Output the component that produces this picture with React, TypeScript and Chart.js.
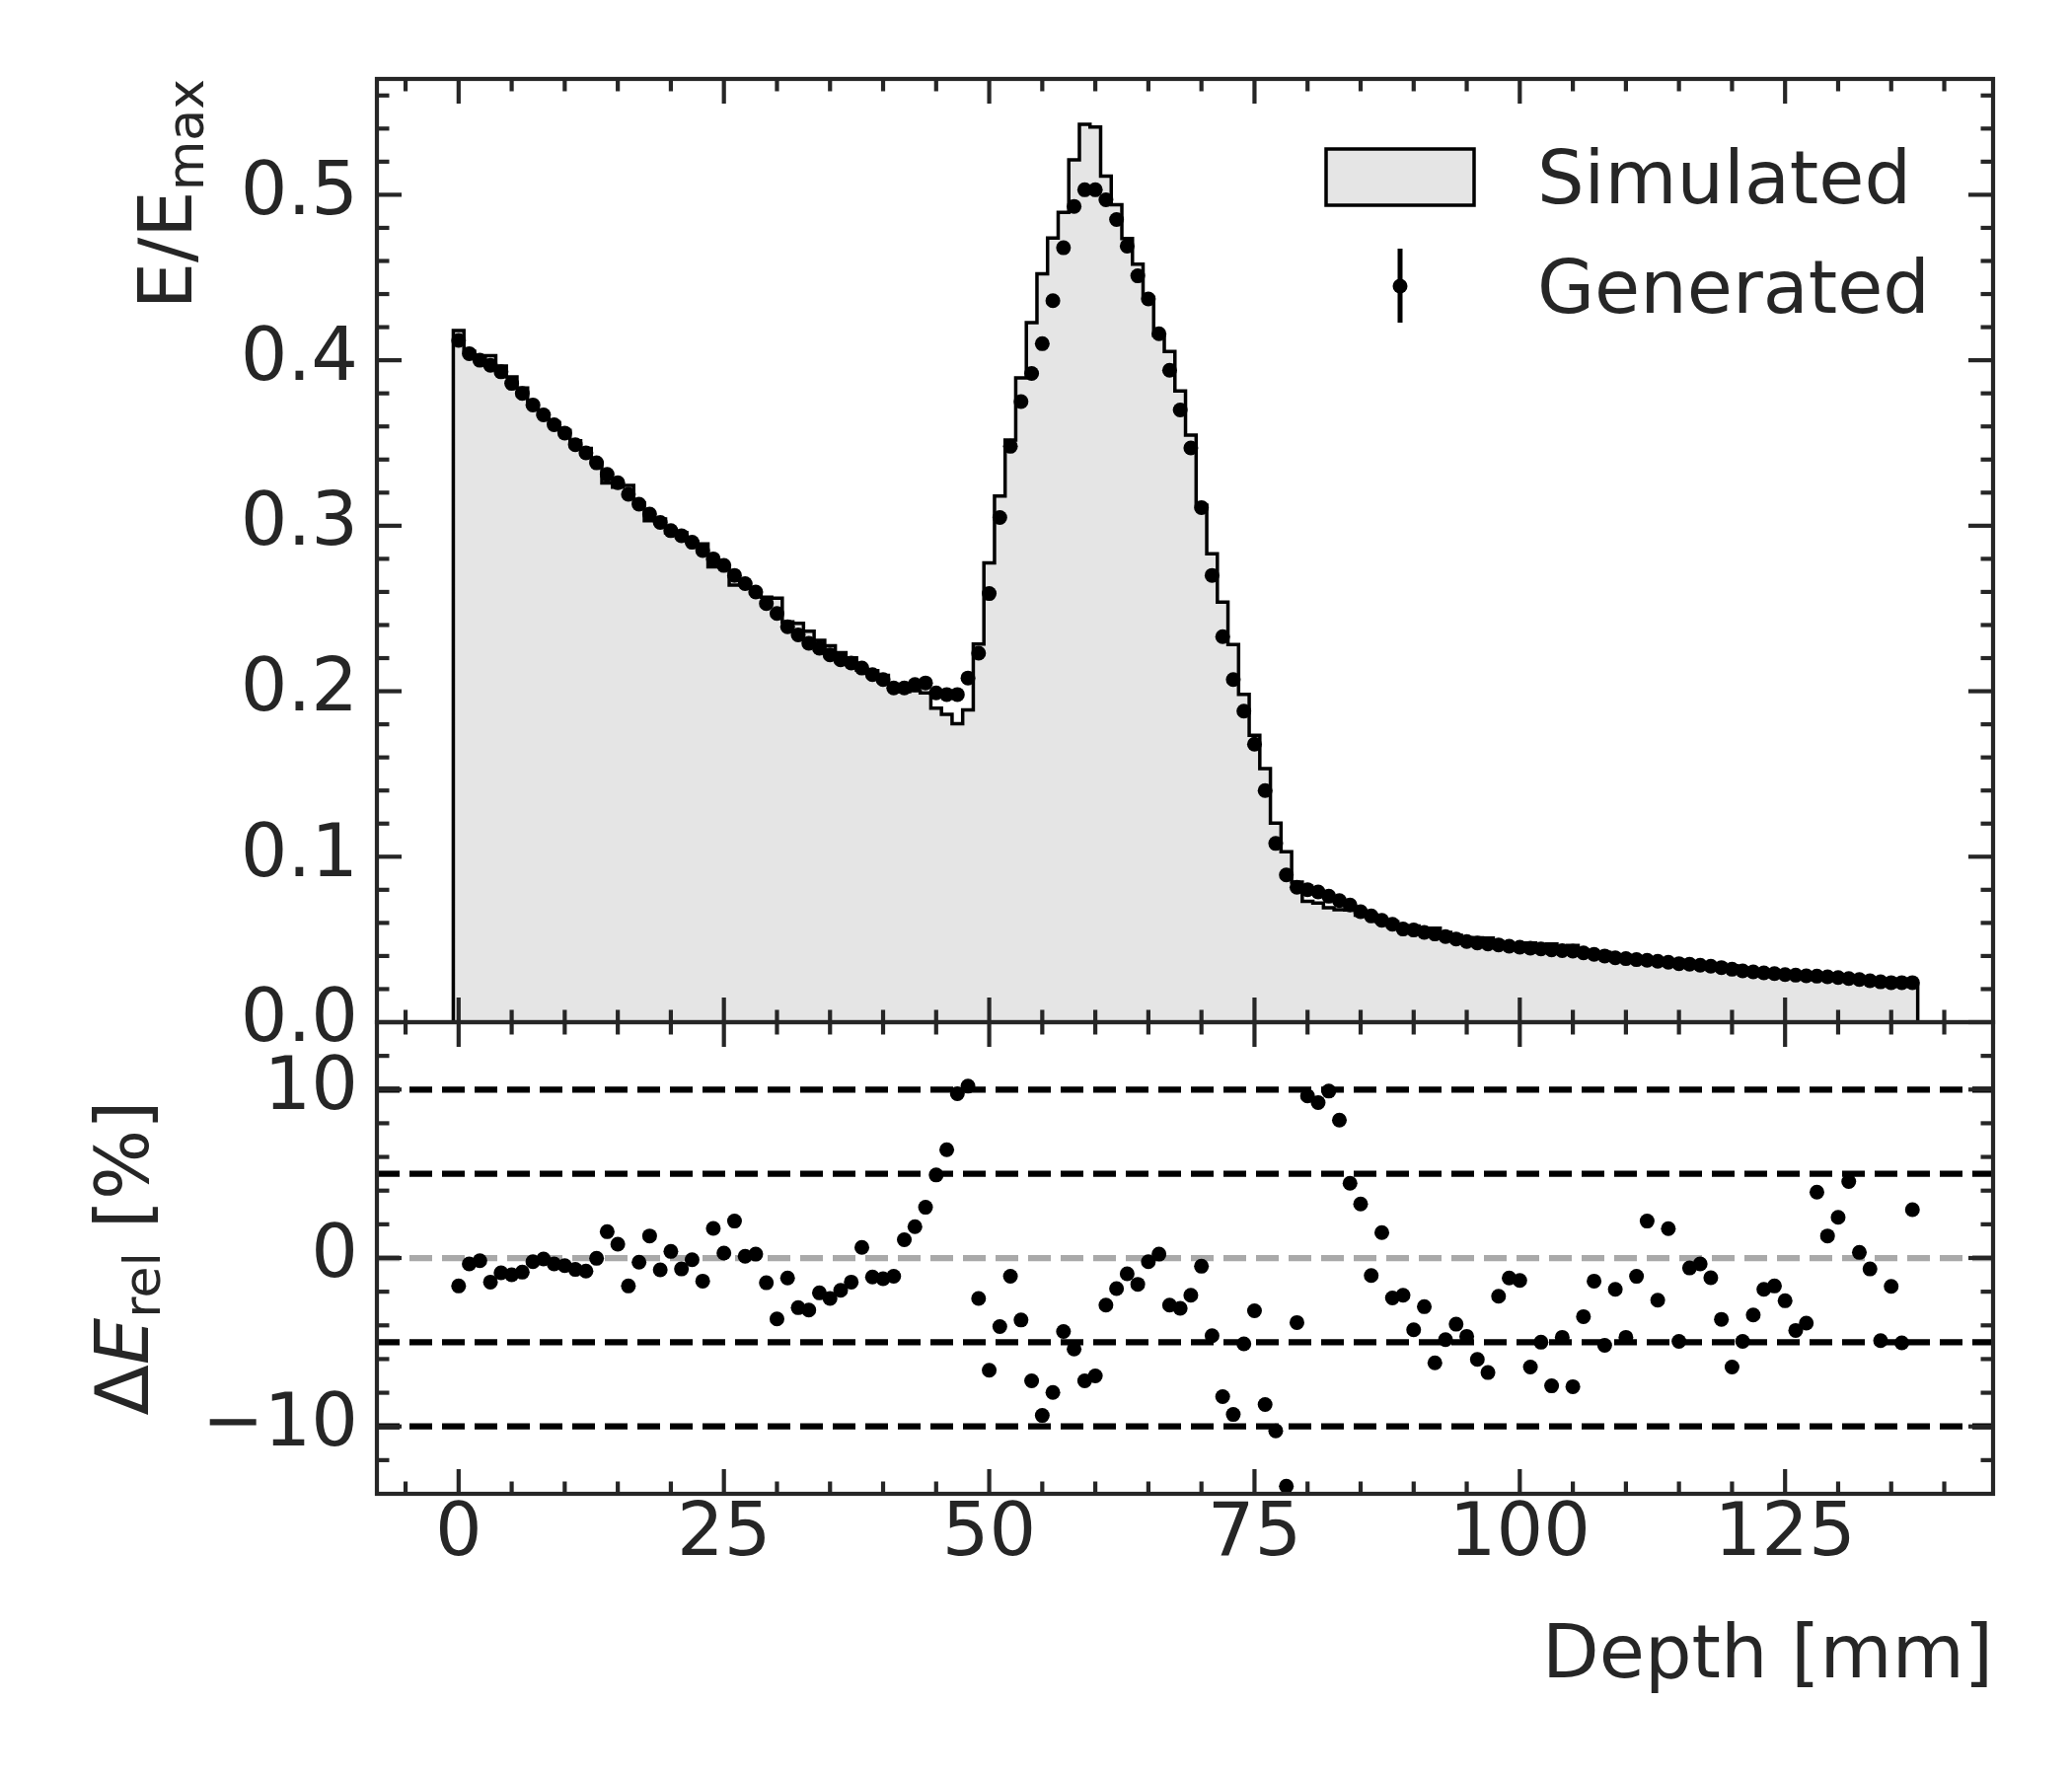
import { useEffect, useRef } from "react";
import { Chart, registerables } from "chart.js";

Chart.register(...registerables);

// Generated energy deposit per 1 mm depth bin (E/Emax)
const generated = [
  0.412, 0.404, 0.400, 0.397, 0.393, 0.386, 0.380, 0.373, 0.367, 0.361,
  0.356, 0.349, 0.344, 0.338, 0.331, 0.326, 0.319, 0.313, 0.307, 0.302,
  0.297, 0.294, 0.290, 0.285, 0.280, 0.276, 0.270, 0.265, 0.260, 0.253,
  0.247, 0.239, 0.234, 0.229, 0.226, 0.222, 0.219, 0.217, 0.214, 0.210,
  0.207, 0.202, 0.202, 0.204, 0.205, 0.199, 0.198, 0.198, 0.208, 0.223,
  0.259, 0.305, 0.348, 0.375, 0.392, 0.410, 0.436, 0.468, 0.493, 0.503,
  0.503, 0.497, 0.485, 0.469, 0.451, 0.437, 0.416, 0.394, 0.370, 0.347,
  0.311, 0.270, 0.233, 0.207, 0.188, 0.168, 0.140, 0.108, 0.089, 0.0815,
  0.0801, 0.0787, 0.0761, 0.0735, 0.0708, 0.0668, 0.0642, 0.0616, 0.0592, 0.0563,
  0.0557, 0.0543, 0.0533, 0.0517, 0.0503, 0.0487, 0.0479, 0.0473, 0.0467, 0.0459,
  0.0453, 0.0447, 0.0443, 0.0437, 0.0433, 0.0429, 0.0419, 0.0410, 0.0400, 0.0389,
  0.0384, 0.0378, 0.0374, 0.0368, 0.0362, 0.0354, 0.0350, 0.0344, 0.0338, 0.0330,
  0.0320, 0.0310, 0.0304, 0.0298, 0.0294, 0.0288, 0.0284, 0.0280, 0.0278, 0.0274,
  0.0270, 0.0264, 0.0258, 0.0250, 0.0244, 0.0239, 0.0239, 0.0239,
];

// Simulated histogram, same bins
const simulated = [
  0.4180, 0.4054, 0.4006, 0.4028, 0.3965, 0.3899, 0.3832, 0.3738, 0.3672, 0.3623,
  0.3576, 0.3514, 0.3467, 0.3381, 0.3259, 0.3233, 0.3244, 0.3138, 0.3030, 0.3041,
  0.2958, 0.2959, 0.2903, 0.2890, 0.2752, 0.2752, 0.2642, 0.2647, 0.2594, 0.2568,
  0.2563, 0.2419, 0.2411, 0.2363, 0.2308, 0.2275, 0.2233, 0.2201, 0.2127, 0.2124,
  0.2096, 0.2042, 0.1998, 0.2003, 0.1990, 0.1897, 0.1860, 0.1804, 0.1887, 0.2285,
  0.2775, 0.3179, 0.3518, 0.3893, 0.4228, 0.4523, 0.4738, 0.4893, 0.5211, 0.5426,
  0.5409, 0.5113, 0.4940, 0.4735, 0.4581, 0.4380, 0.4150, 0.4053, 0.3814, 0.3548,
  0.3125, 0.2830, 0.2539, 0.2282, 0.1981, 0.1734, 0.1533, 0.1203, 0.1030, 0.0847,
  0.0731, 0.0720, 0.0692, 0.0679, 0.0678, 0.0647, 0.0649, 0.0607, 0.0606, 0.0576,
  0.0582, 0.0559, 0.0568, 0.0543, 0.0524, 0.0511, 0.0510, 0.0508, 0.0478, 0.0465,
  0.0459, 0.0478, 0.0466, 0.0473, 0.0454, 0.0464, 0.0434, 0.0416, 0.0422, 0.0396,
  0.0403, 0.0382, 0.0366, 0.0377, 0.0356, 0.0372, 0.0352, 0.0345, 0.0342, 0.0342,
  0.0342, 0.0326, 0.0315, 0.0304, 0.0299, 0.0296, 0.0297, 0.0291, 0.0268, 0.0270,
  0.0264, 0.0253, 0.0257, 0.0252, 0.0257, 0.0243, 0.0252, 0.0232,
];

// Relative difference in percent
const deltaRel = [
  -1.66, -0.35, -0.16, -1.43, -0.88, -1.00, -0.84, -0.22, -0.06, -0.35,
  -0.45, -0.68, -0.78, -0.02, 1.56, 0.82, -1.66, -0.25, 1.31, -0.70,
  0.39, -0.65, -0.10, -1.37, 1.76, 0.29, 2.19, 0.10, 0.23, -1.47,
  -3.62, -1.19, -2.95, -3.09, -2.07, -2.40, -1.92, -1.43, 0.63, -1.13,
  -1.23, -1.08, 1.08, 1.86, 3.01, 4.93, 6.43, 9.76, 10.20, -2.40,
  -6.66, -4.07, -1.08, -3.68, -7.29, -9.35, -7.98, -4.36, -5.40, -7.29,
  -7.00, -2.80, -1.82, -0.94, -1.56, -0.22, 0.23, -2.80, -2.99, -2.21,
  -0.49, -4.61, -8.23, -9.29, -5.10, -3.13, -8.70, -10.26, -13.55, -3.83,
  9.62, 9.23, 9.91, 8.19, 4.44, 3.21, -1.04, 1.51, -2.37, -2.21,
  -4.26, -2.89, -6.22, -4.85, -3.93, -4.65, -6.02, -6.80, -2.27, -1.19,
  -1.33, -6.47, -5.00, -7.59, -4.71, -7.64, -3.48, -1.37, -5.18, -1.86,
  -4.71, -1.09, 2.19, -2.50, 1.74, -4.95, -0.59, -0.35, -1.17, -3.64,
  -6.47, -4.95, -3.38, -1.86, -1.66, -2.54, -4.30, -3.87, 3.91, 1.31,
  2.42, 4.54, 0.33, -0.65, -4.91, -1.68, -5.04, 2.87,
];

const depthTicks = [0, 25, 50, 75, 100, 125];
const energyTicks = [0, 0.1, 0.2, 0.3, 0.4, 0.5];
const deltaTicks = [-10, 0, 10];
const bandLevels = [10, 5, -5, -10];

const INK = "#262626";
const FONT = '"DejaVu Sans", sans-serif';
const X_MIN = -7.7;
const X_MAX = 144.6;

// bin centres: one bin per mm starting at 0
const depth = generated.map((_, i) => i);

function minorValues(min: number, max: number, step: number, majors: number[]) {
  const out: number[] = [];
  for (let k = Math.ceil(min / step + 1e-9); k * step < max - 1e-9; k++) {
    const v = k * step;
    if (!majors.some((m) => Math.abs(m - v) < 1e-9)) out.push(v);
  }
  return out;
}

function makeFrame(yMajor: number[], yStep: number) {
  return {
    id: "frame",
    afterDatasetsDraw(chart: any) {
      const { ctx, chartArea: a } = chart;
      const xs = chart.scales.x;
      const ys = chart.scales.y;
      const seg = (x1: number, y1: number, x2: number, y2: number) => {
        ctx.beginPath();
        ctx.moveTo(x1, y1);
        ctx.lineTo(x2, y2);
        ctx.stroke();
      };
      ctx.save();
      ctx.strokeStyle = INK;
      ctx.lineWidth = 4.2;
      ctx.lineCap = "butt";
      const xMinor = minorValues(X_MIN, X_MAX, 5, depthTicks);
      const yMinor = minorValues(ys.min, ys.max, yStep, yMajor);
      const xTick = (v: number, len: number) => {
        const p = xs.getPixelForValue(v);
        seg(p, a.top, p, a.top + len);
        seg(p, a.bottom, p, a.bottom - len);
      };
      const yTick = (v: number, len: number) => {
        const p = ys.getPixelForValue(v);
        seg(a.left, p, a.left + len, p);
        seg(a.right, p, a.right - len, p);
      };
      depthTicks.forEach((v) => xTick(v, 25));
      xMinor.forEach((v) => xTick(v, 12.5));
      yMajor.forEach((v) => yTick(v, 25));
      yMinor.forEach((v) => yTick(v, 12.5));
      ctx.strokeRect(a.left, a.top, a.right - a.left, a.bottom - a.top);
      ctx.restore();
    },
  };
}

const topText = {
  id: "topText",
  afterDraw(chart: any) {
    const { ctx } = chart;
    ctx.save();
    ctx.fillStyle = INK;
    ctx.textBaseline = "alphabetic";
    // y label E/E_max, placed at the top of the axis
    const main = "E/E";
    const sub = "max";
    ctx.font = `75px ${FONT}`;
    const wMain = ctx.measureText(main).width;
    ctx.font = `52px ${FONT}`;
    const wSub = ctx.measureText(sub).width;
    ctx.save();
    ctx.translate(194, chart.chartArea.top + wMain + wSub);
    ctx.rotate(-Math.PI / 2);
    ctx.font = `75px ${FONT}`;
    ctx.fillText(main, 0, 0);
    ctx.font = `52px ${FONT}`;
    ctx.fillText(sub, wMain, 12);
    ctx.restore();

    // legend
    ctx.fillStyle = "#e5e5e5";
    ctx.fillRect(1344, 151, 150, 57);
    ctx.strokeStyle = "#000";
    ctx.lineWidth = 3.5;
    ctx.strokeRect(1344, 151, 150, 57);
    ctx.lineWidth = 5;
    ctx.beginPath();
    ctx.moveTo(1419, 252);
    ctx.lineTo(1419, 327);
    ctx.stroke();
    ctx.fillStyle = "#000";
    ctx.beginPath();
    ctx.arc(1419, 290, 7.5, 0, Math.PI * 2);
    ctx.fill();
    ctx.fillStyle = INK;
    ctx.font = `75px ${FONT}`;
    ctx.textAlign = "left";
    ctx.fillText("Simulated", 1558, 206);
    ctx.fillText("Generated", 1558, 317);
    ctx.restore();
  },
};

const bottomText = {
  id: "bottomText",
  afterDraw(chart: any) {
    const { ctx, chartArea: a } = chart;
    ctx.save();
    ctx.fillStyle = INK;
    ctx.textBaseline = "alphabetic";
    const parts = [
      { t: "\u0394", f: `75px ${FONT}`, dy: 0 },
      { t: "E", f: `italic 75px ${FONT}`, dy: 0 },
      { t: "rel", f: `52px ${FONT}`, dy: 12 },
      { t: " [%]", f: `75px ${FONT}`, dy: 0 },
    ];
    const widths = parts.map((p) => {
      ctx.font = p.f;
      return ctx.measureText(p.t).width;
    });
    const total = widths.reduce((s, w) => s + w, 0);
    ctx.save();
    ctx.translate(150, (a.top + a.bottom) / 2 + total / 2);
    ctx.rotate(-Math.PI / 2);
    let x = 0;
    parts.forEach((p, i) => {
      ctx.font = p.f;
      ctx.fillText(p.t, x, p.dy);
      x += widths[i];
    });
    ctx.restore();

    ctx.font = `75px ${FONT}`;
    ctx.textAlign = "right";
    ctx.fillText("Depth [mm]", a.right, 1700);
    ctx.restore();
  },
};

export default function App() {
  const topRef = useRef<HTMLCanvasElement>(null);
  const bottomRef = useRef<HTMLCanvasElement>(null);

  useEffect(() => {
    if (!topRef.current || !bottomRef.current) return;

    const tickFont = { family: FONT, size: 75, lineHeight: 1 };

    // step outline: each bin value runs from its left edge to the next edge
    const histPoints = [
      { x: depth[0] - 0.5, y: 0 },
      ...simulated.map((v, i) => ({ x: depth[i] - 0.5, y: v })),
      { x: depth[depth.length - 1] + 0.5, y: simulated[simulated.length - 1] },
      { x: depth[depth.length - 1] + 0.5, y: 0 },
    ];

    const top = new Chart(topRef.current, {
      type: "scatter",
      data: {
        datasets: [
          {
            label: "Generated",
            data: depth.map((x, i) => ({ x, y: generated[i] })),
            backgroundColor: "#000",
            borderWidth: 0,
            pointRadius: 7.5,
          },
          {
            type: "line",
            label: "Simulated",
            data: histPoints,
            stepped: "before",
            borderColor: "#000",
            borderWidth: 3.5,
            backgroundColor: "#e5e5e5",
            fill: "origin",
            pointRadius: 0,
          } as any,
        ],
      },
      options: {
        animation: false,
        responsive: false,
        maintainAspectRatio: false,
        devicePixelRatio: 1,
        events: [],
        layout: { padding: { left: 0, top: 80, right: 80, bottom: 764 } },
        plugins: { legend: { display: false }, tooltip: { enabled: false } },
        scales: {
          x: { type: "linear", display: false, min: X_MIN, max: X_MAX },
          y: {
            type: "linear",
            min: 0,
            max: 0.57,
            grid: { display: false, drawTicks: false },
            border: { display: false },
            afterBuildTicks: (s: any) => {
              s.ticks = energyTicks.map((value) => ({ value }));
            },
            afterFit: (s: any) => {
              s.width = 382;
            },
            ticks: {
              color: INK,
              font: tickFont,
              padding: 19,
              autoSkip: false,
              callback: (v: any) => Number(v).toFixed(1),
            },
          },
        },
      },
      plugins: [makeFrame(energyTicks, 0.02), topText],
    });

    const bandSets = bandLevels.map((level) => ({
      type: "line",
      data: [
        { x: X_MIN, y: level },
        { x: X_MAX, y: level },
      ],
      borderColor: "#000",
      borderWidth: 6.25,
      borderDash: [23, 10],
      pointRadius: 0,
      fill: false,
    }));

    const bottom = new Chart(bottomRef.current, {
      type: "scatter",
      data: {
        datasets: [
          {
            label: "delta",
            data: depth.map((x, i) => ({ x, y: deltaRel[i] })),
            backgroundColor: "#000",
            borderWidth: 0,
            pointRadius: 7.5,
          },
          ...(bandSets as any[]),
          {
            type: "line",
            data: [
              { x: X_MIN, y: 0 },
              { x: X_MAX, y: 0 },
            ],
            borderColor: "#a9a9a9",
            borderWidth: 6.25,
            borderDash: [23, 10],
            pointRadius: 0,
            fill: false,
          } as any,
        ],
      },
      options: {
        animation: false,
        responsive: false,
        maintainAspectRatio: false,
        devicePixelRatio: 1,
        events: [],
        layout: { padding: { left: 0, top: 1036, right: 80, bottom: 0 } },
        plugins: { legend: { display: false }, tooltip: { enabled: false } },
        scales: {
          x: {
            type: "linear",
            min: X_MIN,
            max: X_MAX,
            grid: { display: false, drawTicks: false },
            border: { display: false },
            afterBuildTicks: (s: any) => {
              s.ticks = depthTicks.map((value) => ({ value }));
            },
            afterFit: (s: any) => {
              s.height = 286;
            },
            ticks: {
              color: INK,
              font: tickFont,
              padding: 5,
              autoSkip: false,
              maxRotation: 0,
              minRotation: 0,
              callback: (v: any) => String(v),
            },
          },
          y: {
            type: "linear",
            min: -14,
            max: 14,
            grid: { display: false, drawTicks: false },
            border: { display: false },
            afterBuildTicks: (s: any) => {
              s.ticks = deltaTicks.map((value) => ({ value }));
            },
            afterFit: (s: any) => {
              s.width = 382;
            },
            ticks: {
              color: INK,
              font: tickFont,
              padding: 19,
              autoSkip: false,
              callback: (v: any) => (Number(v) < 0 ? "\u2212" + Math.abs(Number(v)) : String(v)),
            },
          },
        },
      },
      plugins: [makeFrame(deltaTicks, 2), bottomText],
    });

    return () => {
      top.destroy();
      bottom.destroy();
    };
  }, []);

  return (
    <div style={{ position: "absolute", left: 0, top: 0, width: 2100, height: 1800, background: "#fff" }}>
      <canvas ref={topRef} width={2100} height={1800} style={{ position: "absolute", left: 0, top: 0 }} />
      <canvas ref={bottomRef} width={2100} height={1800} style={{ position: "absolute", left: 0, top: 0 }} />
    </div>
  );
}
